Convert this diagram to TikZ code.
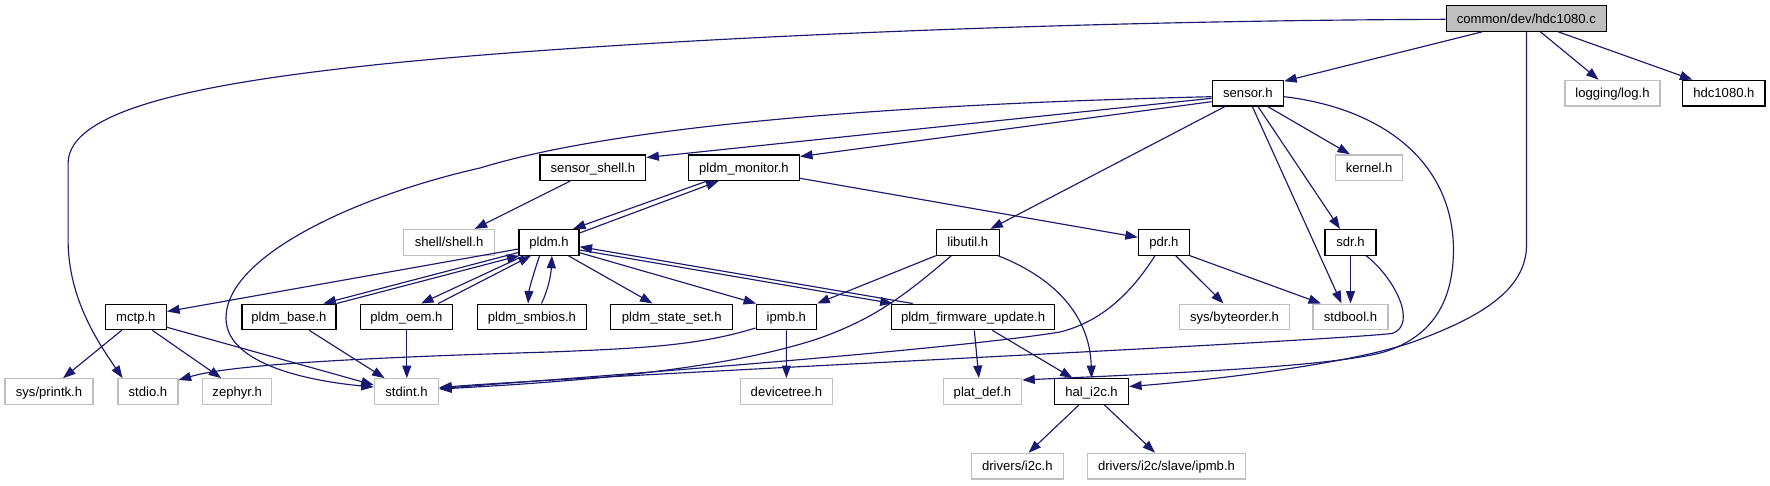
\documentclass[tikz,border=0pt]{standalone}
\usepackage{fontspec}
\setmainfont{Liberation Sans}
\usetikzlibrary{arrows.meta}
\definecolor{edgec}{HTML}{191970}
\definecolor{grayc}{HTML}{BFBFBF}
\begin{document}
\begin{tikzpicture}[x=1pt,y=-1pt,
  box/.style={draw=black,line width=1.2pt,minimum height=25.6pt,inner sep=0pt,
    font=\fontsize{13.1}{15}\selectfont,text height=11.5pt,text depth=2.5pt},
  gbox/.style={box,draw=grayc},
  fbox/.style={box,fill=grayc},
  dep/.style={draw=edgec,line width=1.15pt,-{Triangle[length=12.5pt,width=9pt]}}]
\useasboundingbox (0,0) rectangle (1770,485);
% row 1
\node[fbox,minimum width=160pt] (hdc1080c) at (1526.3,18.5) {common/dev/hdc1080.c};
% row 2
\node[box,minimum width=71.4pt] (sensor) at (1247.9,93.1) {sensor.h};
\node[gbox,minimum width=95pt] (logging) at (1612.5,93.1) {logging/log.h};
\node[box,minimum width=82.2pt] (hdc1080h) at (1723.9,93.1) {hdc1080.h};
% row 3
\node[box,minimum width=105.8pt] (sensorshell) at (592.9,167.7) {sensor\_shell.h};
\node[box,minimum width=111pt] (pldmmonitor) at (743.9,167.7) {pldm\_monitor.h};
\node[gbox,minimum width=67pt] (kernel) at (1369.2,167.7) {kernel.h};
% row 4
\node[gbox,minimum width=90.8pt] (shell) at (449.1,242.3) {shell/shell.h};
\node[box,minimum width=60pt] (pldm) at (549,242.3) {pldm.h};
\node[box,minimum width=62.8pt] (libutil) at (967.8,242.3) {libutil.h};
\node[box,minimum width=50.9pt] (pdr) at (1163.85,242.3) {pdr.h};
\node[box,minimum width=51pt] (sdr) at (1350.5,242.3) {sdr.h};
% row 5
\node[box,minimum width=61.3pt] (mctp) at (135.85,316.9) {mctp.h};
\node[box,minimum width=94.1pt] (pldmbase) at (288.95,316.9) {pldm\_base.h};
\node[box,minimum width=91.9pt] (pldmoem) at (406.45,316.9) {pldm\_oem.h};
\node[box,minimum width=109.5pt] (pldmsmbios) at (531.95,316.9) {pldm\_smbios.h};
\node[box,minimum width=122.1pt] (stateset) at (671.75,316.9) {pldm\_state\_set.h};
\node[box,minimum width=60.5pt] (ipmb) at (786.35,316.9) {ipmb.h};
\node[box,minimum width=163pt] (fwupdate) at (973.1,316.9) {pldm\_firmware\_update.h};
\node[gbox,minimum width=109.8pt] (byteorder) at (1234.5,316.9) {sys/byteorder.h};
\node[gbox,minimum width=75pt] (stdbool) at (1350.5,316.9) {stdbool.h};
% row 6
\node[gbox,minimum width=88pt] (printk) at (49,391.5) {sys/printk.h};
\node[gbox,minimum width=60.1pt] (stdio) at (147.95,391.5) {stdio.h};
\node[gbox,minimum width=68.9pt] (zephyr) at (237.25,391.5) {zephyr.h};
\node[gbox,minimum width=64.3pt] (stdint) at (406.45,391.5) {stdint.h};
\node[gbox,minimum width=91.8pt] (devicetree) at (786.4,391.5) {devicetree.h};
\node[gbox,minimum width=78.4pt] (platdef) at (982.5,391.5) {plat\_def.h};
\node[box,minimum width=73.9pt] (hali2c) at (1091.55,391.5) {hal\_i2c.h};
% row 7
\node[gbox,minimum width=92.2pt] (driversi2c) at (1017.3,466.1) {drivers/i2c.h};
\node[gbox,minimum width=158.6pt] (slaveipmb) at (1166.5,466.1) {drivers/i2c/slave/ipmb.h};

% edges from hdc1080.c
\draw[dep] ([xshift=-44.3pt]hdc1080c.south) -- ([yshift=-1.5pt]sensor.north east);
\draw[dep] ([xshift=14.2pt]hdc1080c.south) -- ([xshift=-13.9pt]logging.north);
\draw[dep] ([xshift=32.1pt]hdc1080c.south) -- ([xshift=-31.5pt]hdc1080h.north);
\draw[dep] ([yshift=-0.8pt]hdc1080c.west) .. controls (1000,21) and (550,44) .. (344,68.3)
  .. controls (200,85) and (68.1,110) .. (68.1,163.3) -- (68.1,240)
  .. controls (68.1,300) and (100,345) .. ([xshift=-25.4pt]stdio.north);
\draw[dep] ([xshift=0.2pt]hdc1080c.south) -- (1526.5,245)
  .. controls (1526.5,290) and (1480,318) .. (1410,343)
  .. controls (1340,366) and (1200,381) .. ([yshift=5pt]hali2c.east);

% edges from sensor.h
\draw[dep] ([yshift=-3.6pt]sensor.west) .. controls (900,104) and (620,125) .. (480,168)
  .. controls (360,195) and (226,255) .. (226,318)
  .. controls (226,370) and (330,383) .. ([yshift=4.5pt]stdint.west);
\draw[dep] ([yshift=-5.2pt]sensor.west) -- ([yshift=10.2pt]sensorshell.east);
\draw[dep] ([yshift=-8.6pt]sensor.west) -- ([yshift=11.2pt]pldmmonitor.east);
\draw[dep] ([xshift=-22.9pt]sensor.south) -- ([xshift=22.6pt]libutil.north);
\draw[dep] ([xshift=19.7pt]sensor.south) -- ([xshift=-19.3pt]kernel.north);
\draw[dep] ([xshift=10.1pt]sensor.south) -- ([xshift=-10.5pt]sdr.north);
\draw[dep] ([xshift=4.4pt]sensor.south) -- ([xshift=-9pt]stdbool.north);
\draw[dep] ([yshift=-3.6pt]sensor.east) .. controls (1380,108) and (1453,160) .. (1453.5,250)
  .. controls (1453,305) and (1430,335) .. (1390,350)
  .. controls (1345,367) and (1150,374) .. ([yshift=11.5pt]platdef.east);

% sensor_shell.h, pldm_monitor.h
\draw[dep] ([xshift=-22.7pt]sensorshell.south) -- ([xshift=25.5pt]shell.north);
\draw[dep] ([yshift=-10.6pt]pldmmonitor.east) -- ([yshift=5pt]pdr.west);
\draw[dep] ([xshift=-37pt]pldmmonitor.south) -- ([xshift=24pt]pldm.north);

% pldm.h
\draw[dep] ([yshift=9.3pt]pldm.east) -- ([xshift=-25.3pt]pldmmonitor.south);
\draw[dep] ([yshift=-6.7pt]pldm.west) -- ([yshift=5.4pt]mctp.east);
\draw[dep] ([yshift=-10.2pt]pldm.west) -- ([xshift=34.45pt]pldmbase.north);
\draw[dep] (pldmbase.north east) -- ([xshift=1pt]pldm.south west);
\draw[dep] ([xshift=-25pt]pldm.south) -- ([xshift=14.55pt]pldmoem.north);
\draw[dep] ([xshift=31.75pt]pldmoem.north) -- ([xshift=-18pt]pldm.south);
\draw[dep] ([xshift=-9.4pt]pldm.south) .. controls (533,275) and (529,290) .. ([xshift=-3.85pt]pldmsmbios.north);
\draw[dep] ([xshift=9.55pt]pldmsmbios.north) .. controls (548,290) and (551,275) .. ([xshift=2.9pt]pldm.south);
\draw[dep] ([xshift=19.3pt]pldm.south) -- ([xshift=-19.25pt]stateset.north);
\draw[dep] ([yshift=-10.4pt]pldm.east) -- ([xshift=0.6pt]ipmb.north west);
\draw[dep] ([yshift=-7.7pt]pldm.east) -- ([xshift=1.7pt]fwupdate.north west);
\draw[dep] ([xshift=21.7pt]fwupdate.north west) -- ([yshift=-4.4pt]pldm.east);

% libutil.h
\draw[dep] (libutil.south west) -- (ipmb.north east);
\draw[dep] ([xshift=-16.5pt]libutil.south) .. controls (900,300) and (870,320) .. (820,338)
  .. controls (720,372) and (550,383) .. ([yshift=2.5pt]stdint.east);
\draw[dep] ([xshift=30.2pt]libutil.south) .. controls (1060,280) and (1090,320) .. (hali2c.north);

% pdr.h
\draw[dep] ([xshift=11.85pt]pdr.south) -- ([xshift=-10.9pt]byteorder.north);
\draw[dep] (pdr.south east) -- ([xshift=-29.5pt]stdbool.north);
\draw[dep] ([xshift=-8.85pt]pdr.south) .. controls (1130,295) and (1100,322) .. (1060,332)
  .. controls (950,350) and (600,376) .. ([yshift=3pt]stdint.east);

% sdr.h
\draw[dep] (sdr.south) -- (stdbool.north);
\draw[dep] ([xshift=15.5pt]sdr.south) .. controls (1395,278) and (1418,325) .. (1392,333.5)
  .. controls (1300,343) and (600,375) .. ([yshift=4pt]stdint.east);

% row 5 outgoing
\draw[dep] ([xshift=-14.15pt]mctp.south) -- ([xshift=14.1pt]printk.north);
\draw[dep] ([xshift=16.45pt]mctp.south) -- ([xshift=-16.05pt]zephyr.north);
\draw[dep] ([yshift=-10.4pt]mctp.east) -- ([yshift=6.5pt]stdint.west);
\draw[dep] ([xshift=20.25pt]pldmbase.south) -- ([xshift=-21.85pt]stdint.north);
\draw[dep] ([xshift=0.35pt]pldmoem.south) -- ([xshift=0.35pt]stdint.north);
\draw[dep] ([yshift=-11.1pt]ipmb.west) .. controls (700,345) and (650,348) .. (550,352)
  .. controls (350,358) and (230,365) .. ([yshift=11.5pt]stdio.east);
\draw[dep] (ipmb.south) -- (devicetree.north);
\draw[dep] ([xshift=1.2pt]fwupdate.south) -- ([xshift=-3.6pt]platdef.north);
\draw[dep] ([xshift=19.2pt]fwupdate.south) -- ([xshift=-18.95pt]hali2c.north);

% hal_i2c.h
\draw[dep] ([xshift=-12.55pt]hali2c.south) -- ([xshift=11.3pt]driversi2c.north);
\draw[dep] ([xshift=12.85pt]hali2c.south) -- ([xshift=-11.5pt]slaveipmb.north);
\end{tikzpicture}
\end{document}
